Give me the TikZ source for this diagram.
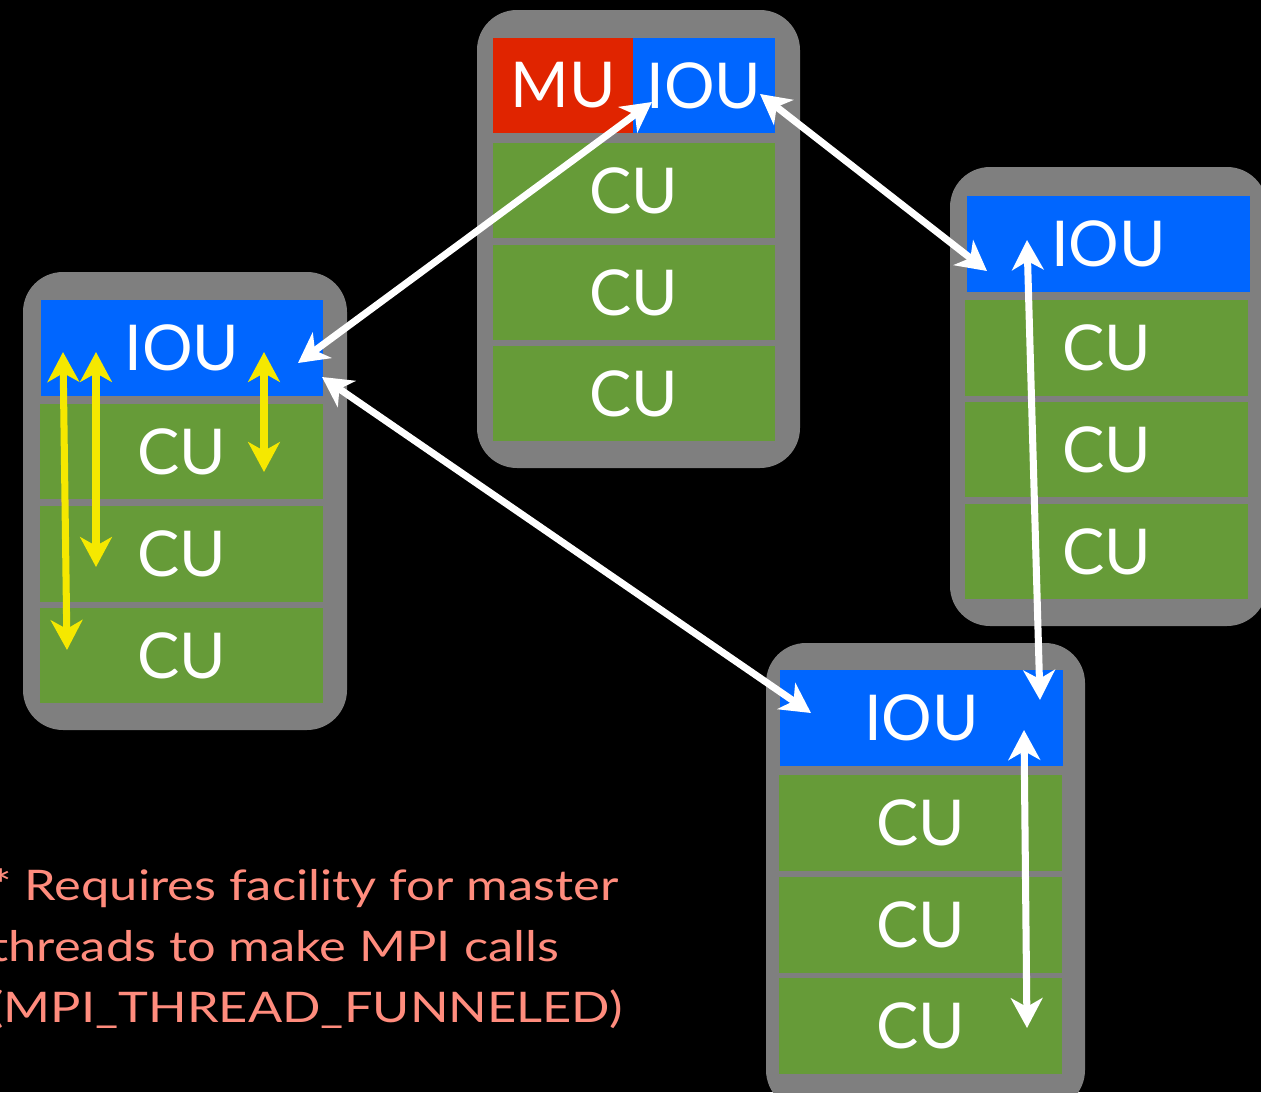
\documentclass[tikz,border=0pt]{standalone}
\usepackage{fontspec}
\setmainfont{Lato}
\newfontfamily\notefont[FakeStretch=1.2]{Lato}
\usetikzlibrary{arrows.meta}
\definecolor{shellgray}{RGB}{127,127,127}
\definecolor{ioublue}{RGB}{0,102,255}
\definecolor{mured}{RGB}{224,36,0}
\definecolor{cugreen}{RGB}{102,155,56}
\definecolor{threadyellow}{RGB}{245,232,0}
\definecolor{notepink}{RGB}{255,140,125}
\tikzset{
    shell/.style={fill=shellgray,rounded corners=0.8cm},
    unit/.style={inner sep=0pt,outer sep=0pt,minimum width=5.66cm,minimum height=1.92cm,
        text=white,font=\fontsize{36}{42}\selectfont},
    iou/.style={unit,fill=ioublue},
    cu/.style={unit,fill=cugreen},
    mu/.style={unit,fill=mured,minimum width=2.8cm},
    link/.style={draw=white,line width=4pt,
        {Stealth[length=17pt,width=18pt,inset=5pt]}-{Stealth[length=17pt,width=18pt,inset=5pt]}},
    thread/.style={link,draw=threadyellow},
    note/.style={text=notepink,align=left,inner sep=0pt,font=\notefont\fontsize{24}{34.5}\selectfont}
}
\begin{document}
\begin{tikzpicture}[x=0.02cm,y=-0.02cm]
            \fill[black] (0,0) rectangle (1261,1092);
            \useasboundingbox (0,0) rectangle (1261,1092);
            % Shells
            \fill[shell] (477,10) rectangle (800,468);
            \fill[shell] (23,272) rectangle (347,730);
            \fill[shell] (950,167) rectangle (1267,626);
            \fill[shell] (766,643) rectangle (1085,1110);
            % Master node
            \node[mu] (mu) at (563,85.5) {MU};
            \node[iou,minimum width=2.84cm] (iouT) at (704,85.5) {IOU};
            \node[cu] (cuT1) at (634,190.5) {CU};
            \node[cu] (cuT2) at (634,292.5) {CU};
            \node[cu] (cuT3) at (634,393.5) {CU};
            % Left node
            \node[iou] (iouL) at (182,348) {IOU};
            \node[cu] (cuL1) at (181.5,451.5) {CU};
            \node[cu] (cuL2) at (181.5,554) {CU};
            \node[cu] (cuL3) at (181.5,655.5) {CU};
            % Right node
            \node[iou] (iouR) at (1108.5,244) {IOU};
            \node[cu] (cuR1) at (1106.5,348) {CU};
            \node[cu] (cuR2) at (1106.5,449.5) {CU};
            \node[cu] (cuR3) at (1106.5,551.5) {CU};
            % Bottom node
            \node[iou] (iouB) at (921.5,718) {IOU};
            \node[cu] (cuB1) at (920.5,822.5) {CU};
            \node[cu] (cuB2) at (920.5,925) {CU};
            \node[cu] (cuB3) at (920.5,1025.5) {CU};
            % Note
            \node[note,anchor=base west] (funneled) at (-10,1022)
                {* Requires facility for master\\threads to make MPI calls\\(MPI\_THREAD\_FUNNELED)};
            % Coordinates
            \coordinate (T1) at (652,102);
            \coordinate (T2) at (760,94);
            \coordinate (L1) at (298,363);
            \coordinate (L2) at (322,377);
            \coordinate (R1) at (987,271);
            \coordinate (R2) at (1027,240);
            \coordinate (B1) at (811,713);
            \coordinate (B2) at (1040,700);
            \coordinate (B3) at (1024,730);
            \coordinate (B4) at (1027,1028);
            \coordinate (Ya) at (63,352);
            \coordinate (Yb) at (96,352);
            \coordinate (Yc) at (264,352);
            \coordinate (Za) at (67,650);
            \coordinate (Zb) at (96,567);
            \coordinate (Zc) at (264,472);
            % MPI links
            \draw[link] (L1) -- (T1);
            \draw[link] (T2) -- (R1);
            \draw[link] (L2) -- (B1);
            \draw[link] (R2) -- (B2);
            \draw[link] (B3) -- (B4);
            % threads inside the left node
            \draw[thread] (Ya) -- (Za);
            \draw[thread] (Yb) -- (Zb);
            \draw[thread] (Yc) -- (Zc);
\end{tikzpicture}
\end{document}
